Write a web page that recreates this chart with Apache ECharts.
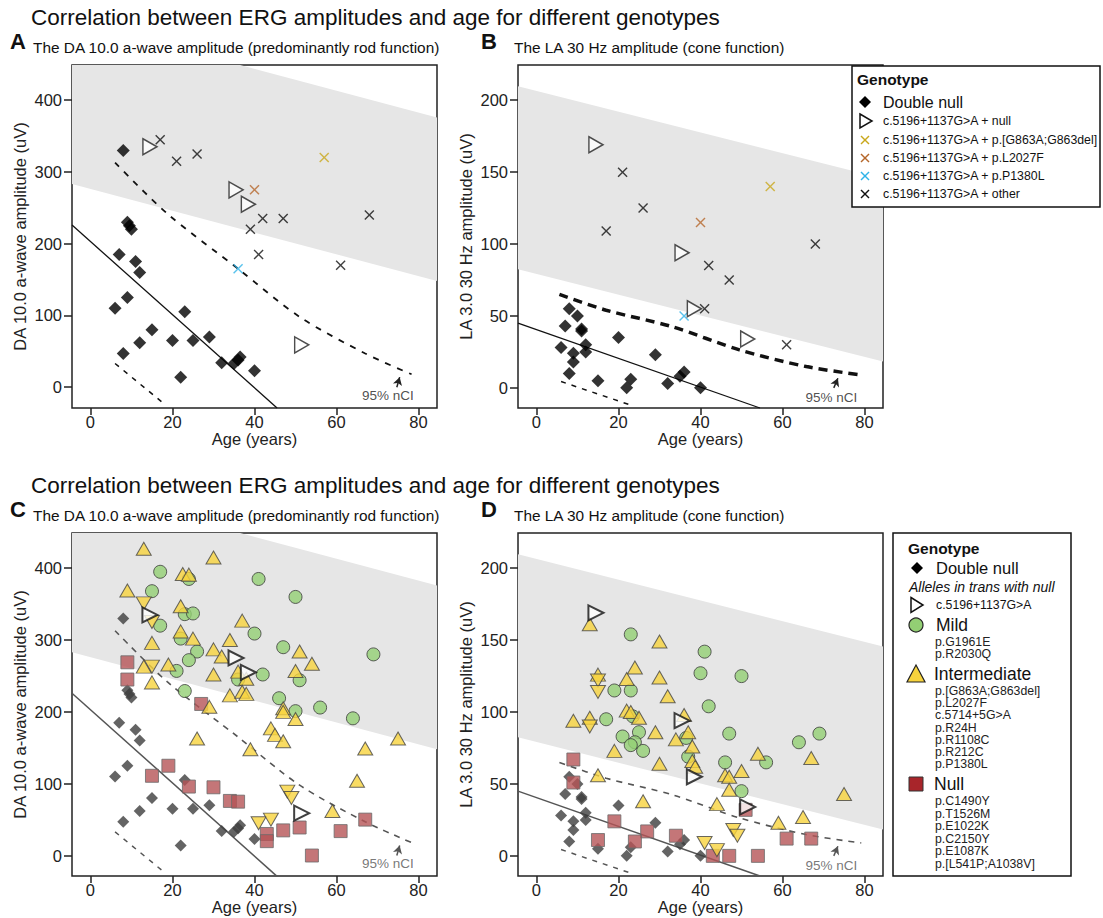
<!DOCTYPE html>
<html>
<head>
<meta charset="utf-8">
<script src="https://cdn.jsdelivr.net/npm/echarts@6/dist/echarts.min.js"></script>
<style>
html, body { margin: 0; padding: 0; background: #fff; }
#main { width: 1103px; height: 918px; }
</style>
</head>
<body>
<div id="main"></div>
<script>
const FONT = '"Liberation Sans", Arial, sans-serif';

// titles
const mainTitle = 'Correlation between ERG amplitudes and age for different genotypes';
const rodTitle = 'The DA 10.0 a-wave amplitude (predominantly rod function)';
const coneTitle = 'The LA 30 Hz amplitude (cone function)';
const rodAxisName = 'DA 10.0 a-wave amplitude (uV)';
const coneAxisName = 'LA 3.0 30 Hz amplitude (uV)';
const xTicks = [0, 20, 40, 60, 80];
const rodTicks = [0, 100, 200, 300, 400];
const coneTicks = [0, 50, 100, 150, 200];

// DA 10.0 a-wave [age, uV]
const dnRod = [[8,330],[9,230],[9.5,225],[10,220],[7,185],[11,175],[12,160],[9,125],[6,110],[23,105],[15,80],[29,70],[20,65],[25,65],[12,62],[8,47],[32,34],[36.5,42],[36,38],[35,33],[40,23],[22,14]];
const triRod = [[14.5,335],[35.5,275],[38.5,255],[51.5,59]];
const otherRod = [[17,345],[21,315],[26,325],[42,235],[47,235],[39,220],[41,185],[68,240],[61,170]];
const g863Rod = [[57,320]];
const l2027Rod = [[40,275]];
const p1380Rod = [[36,165]];
const mildRod = [[17,395],[15,368],[41,385],[50,360],[24,385],[23,336],[25,337],[17,320],[40,309],[22,302],[26,284],[47,290],[69,280],[24,272],[21,257],[42,252],[36,245],[51,244],[23,229],[46,219],[50,201],[56,206],[64,191]];
const interRod = [[13,427],[30,415],[22.5,392],[24,391],[9,369],[22,347],[37,327],[22,312],[25,302],[34,300],[15,296],[30,287],[51,284],[32,277],[54,267],[13,263],[19,266],[30,252],[36,256],[38,246],[50,257],[15,241],[34,223],[37,228],[38,225],[29,207],[47,205],[47,200],[50,190],[26,163],[44,177],[45,168],[47,159],[39,148],[67,149],[75,163],[65,104],[59,62]];
const interDownRod = [[13,351],[15,325],[15,263],[48,89],[49,80],[41,45],[44,50]];
const nullRod = [[9,269],[9,245],[27,211],[19,125],[15,111],[24,96],[30,95],[34,76],[36,75],[43,30],[43,20],[47,35],[51,39],[61,34],[67,50],[54,0]];

// LA 3.0 30 Hz [age, uV]
const dnCone = [[8,55],[10,50],[7,43],[11,41],[11,39.6],[20,35],[6,28],[12,30],[12,25],[9,24],[9,18],[8,10],[29,23],[15,5],[23,6],[22,0],[32,3],[36,11],[35,8],[40,0]];
const triCone = [[14.5,169],[35.5,94],[38.5,55],[51.5,34]];
const otherCone = [[21,150],[26,125],[17,109],[42,85],[47,75],[41,55],[68,100],[61,30]];
const g863Cone = [[57,140]];
const l2027Cone = [[40,115]];
const p1380Cone = [[36,50]];
const mildCone = [[23,154],[41,142],[40,127],[50,125],[19,115],[23,115],[42,104],[17,95],[23.5,97],[25,86],[21,83],[24,79],[23,77],[26,73],[47,85],[46,65],[56,65],[64,79],[69,85],[50,45],[37,69],[36.5,82]];
const interCone = [[13,161],[30,149],[24,131],[30,124],[22,123],[15,126],[32,111],[22,101],[23,100],[25,96],[9,94],[13,96],[36,98],[29,86],[37,86],[34,81],[38,76],[19,73],[38,66],[30,64],[38.7,62],[54,71],[67,68],[75,43],[50,59],[46,56],[47,55],[47,46],[15,56],[26,38],[44,36],[59,23],[65,27]];
const interDownCone = [[15,122],[15,114],[13,90],[48,18],[49,14],[41,9],[44,4]];
const nullCone = [[9,67],[9,51],[19,24],[27,17],[34,14],[24,10],[15,11],[43,0],[47,0],[54,0],[51,32],[61,12],[67,12]];

// normal range bands and fits
const rodBand = [[-4.5,283],[-4.5,449],[36.5,449],[84.5,376],[84.5,148]];
const coneBand = [[-4.5,82.4],[-4.5,209.7],[84.5,145.6],[84.5,18.3]];
const rodFit = [[-4.5,226],[45.5,-29]];
const rodCiHigh = [[6,313],[18.7,242],[36,165],[51,98],[67,47],[78.3,18]];
const rodCiLow = [[6,33],[17.5,-21]];
const coneFit = [[-4.5,45],[54.5,-14]];
const coneCiHigh = [[5.6,65],[17,54],[33,42.6],[49.5,26.4],[65.8,14.8],[79.2,9]];
const coneCiLow = [[6,4.4],[23,-12]];
const rodNote = [72.5,-11], rodArrow = [[74.7,0],[75.4,14]];
const coneNote = [71.9,-6.5], coneArrow = [[72.5,0],[73.5,6.7]];

// legend texts
const topLegend = ['Double null','c.5196+1137G>A + null','c.5196+1137G>A + p.[G863A;G863del]','c.5196+1137G>A + p.L2027F','c.5196+1137G>A + p.P1380L','c.5196+1137G>A + other'];
const mildAlleles = ['p.G1961E','p.R2030Q'];
const interAlleles = ['p.[G863A;G863del]','p.L2027F','c.5714+5G>A','p.R24H','p.R1108C','p.R212C','p.P1380L'];
const nullAlleles = ['p.C1490Y','p.T1526M','p.E1022K','p.C2150Y','p.E1087K','p.[L541P;A1038V]'];

const COL = { gold:'#c9a81c', brown:'#b5672a', cyan:'#2fb3e8', mild:'#93cf74', inter:'#f7d33d', nul:'#b55456' };
const XSYM = 'path://M0,1L1,0L5,4L9,0L10,1L6,5L10,9L9,10L5,6L1,10L0,9L4,5Z';
const RTRI = 'path://M0,0L10,5L0,10Z';
const AX = 16.5;

let grids = [
    {left:72, top:65, width:365, height:343},
    {left:518, top:65, width:365, height:343},
    {left:72, top:533, width:365, height:343},
    {left:518, top:533, width:365, height:343}
].map(g => Object.assign(g, {show:true, borderColor:'#222', borderWidth:1.5, backgroundColor:'transparent', outerBoundsMode:'none'}));

function xAxis(g) {
    return {
        gridIndex:g, type:'value', min:-4.5, max:84.5,
        name:'Age (years)', nameLocation:'middle', nameGap:22,
        nameTextStyle:{fontSize:AX, color:'#222', fontFamily:FONT},
        axisLine:{show:false, onZero:false}, splitLine:{show:false},
        axisTick:{show:true, length:7, customValues:xTicks, lineStyle:{color:'#222', width:1.5}},
        axisLabel:{customValues:xTicks, fontSize:AX, color:'#222', margin:5, fontFamily:FONT}
    };
}
function yAxis(g, min, max, ticks, name) {
    return {
        gridIndex:g, type:'value', min:min, max:max,
        name:name, nameLocation:'middle', nameGap:44,
        nameTextStyle:{fontSize:AX, color:'#222', fontFamily:FONT},
        axisLine:{show:false, onZero:false}, splitLine:{show:false},
        axisTick:{show:true, length:8, customValues:ticks, lineStyle:{color:'#222', width:1.5}},
        axisLabel:{customValues:ticks, fontSize:AX, color:'#222', margin:10, fontFamily:FONT}
    };
}

function band(g, pts) {
    return {
        type:'custom', xAxisIndex:g, yAxisIndex:g, data:pts, z:1, silent:true,
        renderItem: function (params, api) {
            if (params.dataIndex !== 0) return null;
            return {type:'polygon', shape:{points: pts.map(p => api.coord(p))}, style:{fill:'#e6e6e6'}};
        }
    };
}
function line(g, data, color, width, dash, smooth) {
    return {
        type:'line', xAxisIndex:g, yAxisIndex:g, data:data, symbol:'none', smooth: smooth ? 0.3 : false,
        lineStyle:{color:color, width:width, type:dash || 'solid'}, z:2, silent:true
    };
}
function dots(g, data, symbol, size, style, z, rotate) {
    return {
        type:'scatter', xAxisIndex:g, yAxisIndex:g, data:data, symbol:symbol, symbolSize:size,
        symbolRotate: rotate || 0, itemStyle:style, z:z, silent:true
    };
}
function note(g, pt, arrow, color) {
    return [
        {type:'scatter', xAxisIndex:g, yAxisIndex:g, data:[pt], symbolSize:1, itemStyle:{color:'transparent'}, z:7, silent:true,
         label:{show:true, position:'inside', formatter:'95% nCI', fontSize:13.5, color:color, fontFamily:FONT}},
        {type:'line', xAxisIndex:g, yAxisIndex:g, data:[], z:7, silent:true,
         markLine:{silent:true, symbol:['none','arrow'], symbolSize:[7,8], label:{show:false},
                   lineStyle:{color:color, width:1.5, type:'solid'}, data:[[{coord:arrow[0]},{coord:arrow[1]}]]}}
    ];
}

function panelTop(g, bandPts, fit, hi, lo, hiW, hiDash, dn, tri, other, g863, l2027, p1380, pt, arrow) {
    return [
        band(g, bandPts),
        line(g, fit, '#111', 1.3),
        line(g, hi, '#111', hiW, hiDash, true),
        line(g, lo, '#111', 1.5, [5,6]),
        dots(g, dn, 'diamond', 13, {color:'#000'}, 3),
        dots(g, other, XSYM, 10, {color:'#111'}, 4),
        dots(g, g863, XSYM, 10, {color:COL.gold}, 4),
        dots(g, l2027, XSYM, 10, {color:COL.brown}, 4),
        dots(g, p1380, XSYM, 10, {color:COL.cyan}, 4),
        dots(g, tri, RTRI, [14,16], {color:'#fff', borderColor:'#222', borderWidth:1.5}, 8)
    ].concat(note(g, pt, arrow, '#222'));
}
function panelBottom(g, bandPts, fit, hi, lo, dn, tri, mild, inter, interDown, nul, pt, arrow) {
    const grey = '#555';
    return [
        band(g, bandPts),
        line(g, fit, grey, 1.5),
        line(g, hi, grey, 1.6, [6,6], true),
        line(g, lo, grey, 1.5, [5,6]),
        dots(g, dn, 'diamond', 12, {color:'#3d3d3d'}, 3),
        dots(g, nul, 'rect', 13, {color:COL.nul, borderColor:'#6a6a6a', borderWidth:1}, 4),
        dots(g, mild, 'circle', 13, {color:COL.mild, borderColor:'#3a3a3a', borderWidth:1}, 5),
        dots(g, inter, 'triangle', [15,13], {color:COL.inter, borderColor:'#444', borderWidth:1}, 6),
        dots(g, interDown, 'triangle', [15,13], {color:COL.inter, borderColor:'#444', borderWidth:1}, 6, 180),
        dots(g, tri, RTRI, [15,15], {color:'#fff', borderColor:'#111', borderWidth:2}, 8)
    ].concat(note(g, pt, arrow, grey));
}

let series = [].concat(
    panelTop(0, rodBand, rodFit, rodCiHigh, rodCiLow, 1.8, [6,7], dnRod, triRod, otherRod, g863Rod, l2027Rod, p1380Rod, rodNote, rodArrow),
    panelTop(1, coneBand, coneFit, coneCiHigh, coneCiLow, 3.5, [9,6], dnCone, triCone, otherCone, g863Cone, l2027Cone, p1380Cone, coneNote, coneArrow),
    panelBottom(2, rodBand, rodFit, rodCiHigh, rodCiLow, dnRod, triRod, mildRod, interRod, interDownRod, nullRod, rodNote, rodArrow),
    panelBottom(3, coneBand, coneFit, coneCiHigh, coneCiLow, dnCone, triCone, mildCone, interCone, interDownCone, nullCone, coneNote, coneArrow)
);

function txt(t, x, y, size, opts) {
    return {type:'text', z:101, style:Object.assign({text:t, x:x, y:y, fontSize:size, fontFamily:FONT, fill:'#111', verticalAlign:'middle'}, opts || {})};
}
function diamond(cx, cy, r, fill) {
    return {type:'polygon', z:101, shape:{points:[[cx,cy-r],[cx+r,cy],[cx,cy+r],[cx-r,cy]]}, style:{fill:fill}};
}
function rtri(cx, cy, w, h, lw) {
    return {type:'polygon', z:101, shape:{points:[[cx-w/2,cy-h/2],[cx+w/2,cy],[cx-w/2,cy+h/2]]}, style:{fill:'#fff', stroke:'#111', lineWidth:lw}};
}
function cross(cx, cy, r, color) {
    return {type:'group', z:101, children:[
        {type:'line', z:101, shape:{x1:cx-r, y1:cy-r, x2:cx+r, y2:cy+r}, style:{stroke:color, lineWidth:1.5}},
        {type:'line', z:101, shape:{x1:cx-r, y1:cy+r, x2:cx+r, y2:cy-r}, style:{stroke:color, lineWidth:1.5}}
    ]};
}

let graphic = [];
// top legend
graphic.push({type:'rect', z:100, shape:{x:852, y:66, width:248, height:141}, style:{fill:'#fff', stroke:'#111', lineWidth:1.5}});
graphic.push(txt('Genotype', 857, 79, 15.5, {fontWeight:'bold'}));
const topRows = [102, 121, 140, 158, 176, 194];
const topColors = ['#111', '#111', COL.gold, COL.brown, COL.cyan, '#111'];
topLegend.forEach(function (t, i) {
    graphic.push(txt(t, 883, topRows[i], i === 0 ? 16 : 12.3));
    if (i === 0) graphic.push(diamond(865, topRows[i], 6, '#000'));
    else if (i === 1) graphic.push(rtri(866, topRows[i], 12, 14, 1.5));
    else graphic.push(cross(865, topRows[i], 4, topColors[i]));
});

// bottom legend
graphic.push({type:'rect', z:100, shape:{x:893, y:533, width:178, height:343}, style:{fill:'#fff', stroke:'#111', lineWidth:1.5}});
graphic.push(txt('Genotype', 908, 548, 15.5, {fontWeight:'bold'}));
graphic.push(diamond(917, 568, 6, '#000'));
graphic.push(txt('Double null', 936, 568, 16.5));
graphic.push(txt('Alleles in trans with null', 909, 587, 14, {fontStyle:'italic'}));
graphic.push(rtri(917, 605, 12, 15, 1.5));
graphic.push(txt('c.5196+1137G>A', 936, 605, 12.3));
graphic.push({type:'circle', z:101, shape:{cx:916, cy:625, r:7}, style:{fill:COL.mild, stroke:'#222', lineWidth:1.2}});
graphic.push(txt('Mild', 936, 625, 17.5));
mildAlleles.forEach((t, i) => graphic.push(txt(t, 935, 642 + i * 12, 12.3, {fill:'#222'})));
graphic.push({type:'polygon', z:101, shape:{points:[[916,665],[925,682],[907,682]]}, style:{fill:COL.inter, stroke:'#222', lineWidth:1.2}});
graphic.push(txt('Intermediate', 934, 674, 17.5));
interAlleles.forEach((t, i) => graphic.push(txt(t, 935, 691 + i * 12.2, 12.3, {fill:'#222'})));
graphic.push({type:'rect', z:101, shape:{x:909, y:777, width:14, height:14}, style:{fill:'#a8252a', stroke:'#333', lineWidth:1}});
graphic.push(txt('Null', 934, 784, 17.5));
nullAlleles.forEach((t, i) => graphic.push(txt(t, 935, 801 + i * 12.5, 12.3, {fill:'#222'})));

const titleStyle = (size, bold) => ({fontSize:size, lineHeight:Math.round(size), fontWeight: bold ? 'bold' : 'normal', color:'#111', fontFamily:FONT});
let titles = [
    {text:mainTitle, left:31, top:6, textStyle:titleStyle(22.5)},
    {text:'A', left:10, top:30, textStyle:titleStyle(22, true)},
    {text:rodTitle, left:33, top:40, textStyle:titleStyle(15.4)},
    {text:'B', left:481, top:30, textStyle:titleStyle(22, true)},
    {text:coneTitle, left:514, top:40, textStyle:titleStyle(15.4)},
    {text:mainTitle, left:31, top:474, textStyle:titleStyle(22.5)},
    {text:'C', left:10, top:498, textStyle:titleStyle(22, true)},
    {text:rodTitle, left:33, top:508, textStyle:titleStyle(15.4)},
    {text:'D', left:481, top:498, textStyle:titleStyle(22, true)},
    {text:coneTitle, left:514, top:508, textStyle:titleStyle(15.4)}
].map(t => Object.assign(t, {padding:0}));

let myChart = echarts.init(document.getElementById('main'), null, {renderer:'svg'});
let option = {
    backgroundColor:'#fff',
    animation:false,
    title:titles,
    grid:grids,
    xAxis:[xAxis(0), xAxis(1), xAxis(2), xAxis(3)],
    yAxis:[
        yAxis(0, -29, 449, rodTicks, rodAxisName),
        yAxis(1, -14, 224.5, coneTicks, coneAxisName),
        yAxis(2, -28.5, 449, rodTicks, rodAxisName),
        yAxis(3, -14, 224.5, coneTicks, coneAxisName)
    ],
    series:series,
    graphic:graphic
};
myChart.setOption(option);
</script>
</body>
</html>
